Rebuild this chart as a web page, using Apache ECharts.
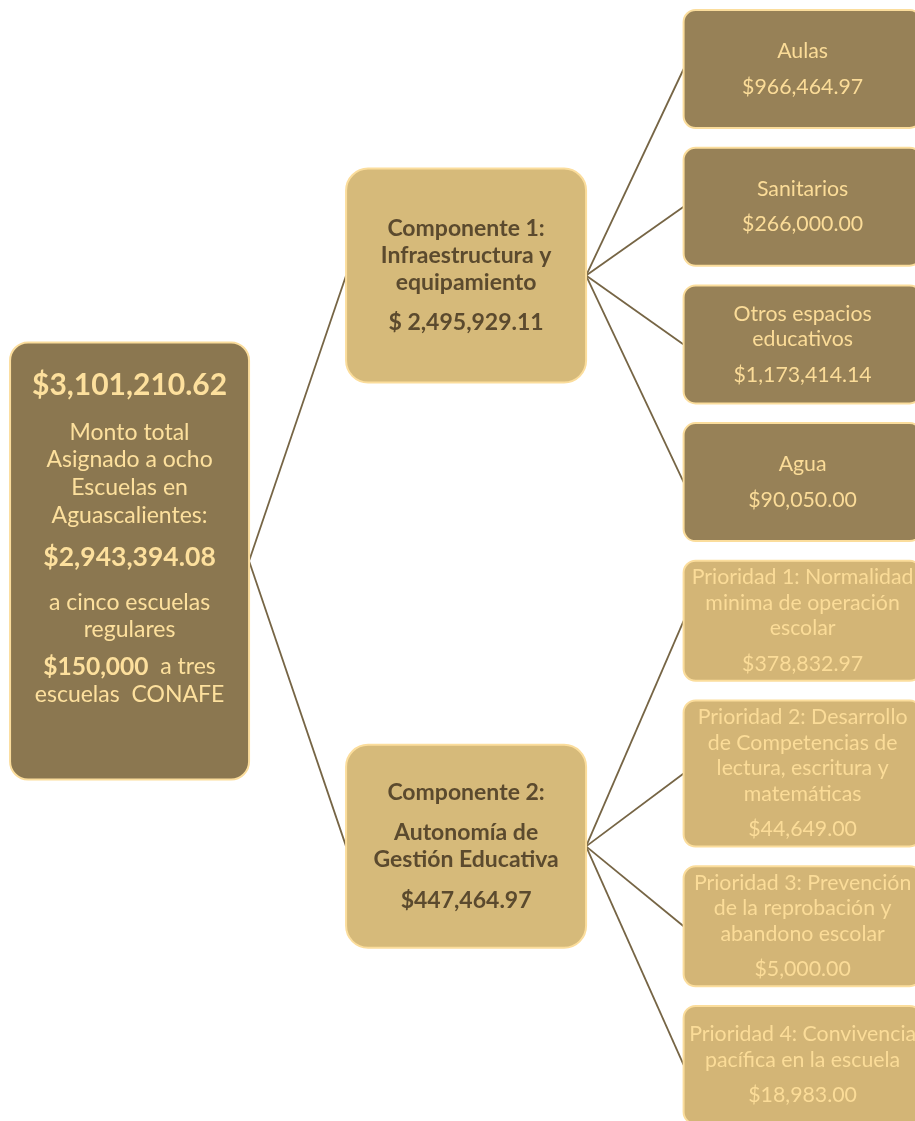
<!DOCTYPE html>
<html>
<head>
<meta charset="utf-8">
<script src="https://cdn.jsdelivr.net/npm/echarts@6/dist/echarts.min.js"></script>
<style>
  html, body { margin: 0; padding: 0; background: #ffffff; }
  #main { width: 915px; height: 1121px; }
</style>
</head>
<body>
<div id="main"></div>
<script>
// --- datos (montos asignados) ---
var totalAmount = '$3,101,210.62';
var totalLabel = 'Monto total\nAsignado a ocho\nEscuelas en\nAguascalientes:';
var regularAmount = '$2,943,394.08';
var regularLabel = 'a cinco escuelas\nregulares';
var conafeAmount = '$150,000';
var conafeLabel = ['a tres', 'escuelas  CONAFE'];

var componentNames = [
    ['Componente 1:\nInfraestructura y\nequipamiento'],
    ['Componente 2:', 'Autonomía de\nGestión Educativa']
];
var componentAmounts = ['$ 2,495,929.11', '$447,464.97'];

var itemNames = [
    'Aulas',
    'Sanitarios',
    'Otros espacios\neducativos',
    'Agua',
    'Prioridad 1: Normalidad\nminima de operación\nescolar',
    'Prioridad 2: Desarrollo\nde Competencias de\nlectura, escritura y\nmatemáticas',
    'Prioridad 3: Prevención\nde la reprobación y\nabandono escolar',
    'Prioridad 4: Convivencia\npacífica en la escuela'
];
var itemAmounts = ['$966,464.97', '$266,000.00', '$1,173,414.14', '$90,050.00',
    '$378,832.97', '$44,649.00', '$5,000.00', '$18,983.00'];
var itemParent = [0, 0, 0, 0, 1, 1, 1, 1];

// --- estilos ---
var FONT = 'Lato, "Noto Sans", sans-serif';
var LIGHT = '#fde09d';
var textStyles = {
    rootTitle:  { size: 30,   weight: 'bold',   lh: 34,   color: LIGHT },
    rootBody:   { size: 23,   weight: 'normal', lh: 27.7, color: LIGHT },
    rootAmount: { size: 26.5, weight: 'bold',   lh: 30,   color: LIGHT },
    comp:       { size: 23,   weight: 'bold',   lh: 27,   color: '#5b4a2e' },
    leaf:       { size: 21.3, weight: 'normal', lh: 25.5, color: '#fbdc98' }
};
var halfW = [119.5, 120, 119];        // medio ancho de caja por nivel
var radius = [18, 22, 12];
var rootH = 437;
var compH = [214, 203];
var compFill = '#d6ba7a';
var rootFill = '#8b7750';
var leafFill = ['#978157', '#d3b576'];
var leafGap = 19.7, leafTop = 10;

// --- layout (y en px del eje, calculado por alturas de caja) ---
var leafH = itemNames.map(function (t) {
    var n = t.split('\n').length + 1;
    return Math.max(118, 26 * n + 16);
});
var leafY = [];
var acc = leafTop;
leafH.forEach(function (h) { leafY.push(acc + h / 2); acc += h + leafGap; });
function mean(a) { return a.reduce(function (s, v) { return s + v; }, 0) / a.length; }
var compY = componentAmounts.map(function (_, k) {
    return mean(leafY.filter(function (_, i) { return itemParent[i] === k; }));
});
var rootY = mean(compY);

var nodes = [];
nodes.push({
    depth: 0, y: rootY, h: rootH, fill: rootFill, padTop: 26,
    paras: [
        { t: totalAmount, s: 'rootTitle', gap: 0 },
        { t: totalLabel, s: 'rootBody', gap: 16 },
        { t: regularAmount, s: 'rootAmount', gap: 13 },
        { t: regularLabel, s: 'rootBody', gap: 16 },
        { t: '{b|' + conafeAmount + '}  ' + conafeLabel[0] + '\n' + conafeLabel[1], s: 'rootBody', gap: 9.5 }
    ]
});
componentAmounts.forEach(function (amt, k) {
    var paras = componentNames[k].map(function (t, j) { return { t: t, s: 'comp', gap: j ? 13.5 : 0 }; });
    paras.push({ t: amt, s: 'comp', gap: 13.5 });
    nodes.push({ depth: 1, y: compY[k], h: compH[k], fill: compFill, paras: paras });
});
itemNames.forEach(function (name, i) {
    nodes.push({
        depth: 2, y: leafY[i], h: leafH[i], fill: leafFill[itemParent[i]],
        paras: [{ t: name, s: 'leaf', gap: 0 }, { t: itemAmounts[i], s: 'leaf', gap: 10 }]
    });
});

var links = [];
compY.forEach(function (y) { links.push([0, rootY, 1, y]); });
itemParent.forEach(function (p, i) { links.push([1, compY[p], 2, leafY[i]]); });

function renderBox(params, api) {
    var n = nodes[params.dataIndex];
    var c = api.coord([api.value(0), api.value(1)]);
    var h = api.size([0, n.h])[1];
    var w = halfW[n.depth] * 2;
    var x0 = c[0] - w / 2, y0 = c[1] - h / 2;
    var kids = [{
        type: 'rect',
        shape: { x: x0, y: y0, width: w, height: h, r: radius[n.depth] },
        style: { fill: n.fill, stroke: '#fbdd9c', lineWidth: 2 }
    }];
    var block = 0;
    n.paras.forEach(function (p) {
        block += p.gap + p.t.split('\n').length * textStyles[p.s].lh;
    });
    var yy = n.padTop != null ? y0 + n.padTop : c[1] - block / 2;
    n.paras.forEach(function (p) {
        var st = textStyles[p.s];
        yy += p.gap;
        kids.push({
            type: 'text',
            style: {
                text: p.t, x: c[0], y: yy, align: 'center', verticalAlign: 'top',
                fontFamily: FONT, fontSize: st.size, fontWeight: st.weight,
                lineHeight: st.lh, fill: st.color,
                rich: { b: { fontFamily: FONT, fontSize: 24.5, fontWeight: 'bold', lineHeight: st.lh, color: st.color } }
            }
        });
        yy += p.t.split('\n').length * st.lh;
    });
    return { type: 'group', children: kids };
}

function renderLink(params, api) {
    var d0 = api.value(0), d1 = api.value(2);
    var p = api.coord([d0, api.value(1)]);
    var q = api.coord([d1, api.value(3)]);
    return {
        type: 'line',
        shape: { x1: p[0] + halfW[d0], y1: p[1], x2: q[0] - halfW[d1], y2: q[1] },
        style: { stroke: '#766545', lineWidth: 1.8 }
    };
}

var myChart = echarts.init(document.getElementById('main'));
var option = {
    animation: false,
    grid: { left: 0, right: 0, top: 0, bottom: 0 },
    xAxis: { type: 'value', min: -0.385, max: 2.334, show: false },
    yAxis: { type: 'value', min: 0, max: 1121, inverse: true, show: false },
    series: [
        {
            type: 'custom', name: 'enlaces', silent: true, z: 1,
            renderItem: renderLink,
            encode: { x: [0, 2], y: [1, 3] },
            data: links
        },
        {
            type: 'custom', name: 'cajas', silent: true, z: 2,
            renderItem: renderBox,
            encode: { x: 0, y: 1 },
            data: nodes.map(function (n) { return [n.depth, n.y]; })
        }
    ]
};
myChart.setOption(option);
</script>
</body>
</html>
